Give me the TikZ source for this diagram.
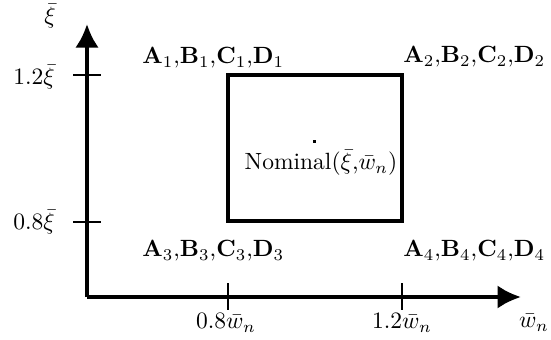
\documentclass[tikz,border=0pt]{standalone}
\usetikzlibrary{arrows.meta}
\begin{document}
\begin{tikzpicture}[x=0.4255pt,y=-0.4255pt,
  axis/.style={line width=1.7pt,-{Latex[length=10pt,width=10pt]}},
  tickline/.style={line width=0.45pt},
  boxline/.style={line width=1.5pt},
  lbl/.style={inner sep=0pt, font=\normalsize}]
\useasboundingbox (0,0) rectangle (551,339);
% axes
\coordinate (O) at (87,297);
\coordinate (ytip) at (87,24);
\coordinate (xtip) at (521,297);
\draw[axis] (O) -- (ytip);
\draw[axis] (O) -- (xtip);
% ticks
\coordinate (yt1a) at (73,75);  \coordinate (yt1b) at (101,75);
\coordinate (yt2a) at (73,222); \coordinate (yt2b) at (101,222);
\coordinate (xt1a) at (228,283); \coordinate (xt1b) at (228,310);
\coordinate (xt2a) at (402,283); \coordinate (xt2b) at (402,310);
\draw[tickline] (yt1a) -- (yt1b);
\draw[tickline] (yt2a) -- (yt2b);
\draw[tickline] (xt1a) -- (xt1b);
\draw[tickline] (xt2a) -- (xt2b);
% box
\coordinate (bl) at (228,221);
\coordinate (tr) at (402,75);
\draw[boxline] (bl) rectangle (tr);
\fill (312.5,139.5) rectangle (316,143);
% labels
\node[lbl] (xi) at (50,16) {$\bar{\xi}$};
\node[lbl] (y12) at (34,77) {$1.2\bar{\xi}$};
\node[lbl] (y08) at (34,222) {$0.8\bar{\xi}$};
\node[lbl] (x08) at (226,323) {$0.8\bar{w}_n$};
\node[lbl] (x12) at (402,323) {$1.2\bar{w}_n$};
\node[lbl] (wn) at (534,323) {$\bar{w}_n$};
\node[lbl,anchor=west] (c1) at (142,58) {$\mathbf{A}_1$,$\mathbf{B}_1$,$\mathbf{C}_1$,$\mathbf{D}_1$};
\node[lbl,anchor=west] (c2) at (403,57) {$\mathbf{A}_2$,$\mathbf{B}_2$,$\mathbf{C}_2$,$\mathbf{D}_2$};
\node[lbl,anchor=west] (c3) at (142,251) {$\mathbf{A}_3$,$\mathbf{B}_3$,$\mathbf{C}_3$,$\mathbf{D}_3$};
\node[lbl,anchor=west] (c4) at (403,251) {$\mathbf{A}_4$,$\mathbf{B}_4$,$\mathbf{C}_4$,$\mathbf{D}_4$};
\node[lbl] (nom) at (321,163) {Nominal$(\bar{\xi}$,$\bar{w}_n)$};
\end{tikzpicture}
\end{document}
